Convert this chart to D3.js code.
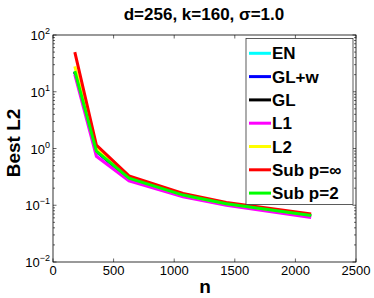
<!DOCTYPE html>
<html>
  <head>
    <title>Best L2 vs n</title>
    <script src="https://d3js.org/d3.v7.min.js"></script>
    <style>
      body { margin: 0; background: #fff; }
      text { font-family: "Liberation Sans", Arial, sans-serif; fill: #000; }
      .title, .axis-label, .legend text { font-weight: bold; }
      .tick-label { font-size: 13px; }
    </style>
  </head>
  <body>
    <svg width="374" height="298"></svg>
    <script>
      // n values and Best L2 per method
      const nValues = [180, 358, 627, 1073, 1430, 2130];
      const seriesNames = ["EN", "GL+w", "GL", "L1", "L2", "Sub p=\u221e", "Sub p=2"];
      const seriesColors = ["#00ffff", "#0000ff", "#000000", "#ff00ff", "#ffff00", "#ff0000", "#00ff00"];
      const enValues = [22.5, 0.90, 0.300, 0.150, 0.105, 0.066];
      const glwValues = [22.0, 0.88, 0.295, 0.149, 0.105, 0.065];
      const glValues = [22.5, 0.93, 0.300, 0.150, 0.105, 0.065];
      const l1Values = [20.0, 0.73, 0.270, 0.141, 0.100, 0.061];
      const l2Values = [28.0, 1.00, 0.310, 0.153, 0.107, 0.067];
      const subInfValues = [50.0, 1.15, 0.330, 0.161, 0.112, 0.070];
      const sub2Values = [23.0, 0.90, 0.300, 0.151, 0.106, 0.066];
      const xTicks = [0, 500, 1000, 1500, 2000, 2500];
      const yExponents = [-2, -1, 0, 1, 2];

      const allValues = [enValues, glwValues, glValues, l1Values, l2Values, subInfValues, sub2Values];
      const series = seriesNames.map((name, i) => ({
        name,
        color: seriesColors[i],
        points: nValues.map((n, j) => [n, allValues[i][j]])
      }));

      const svg = d3.select("svg");
      const plotLeft = 53, plotRight = 356, plotTop = 35, plotBottom = 262;

      const x = d3.scaleLinear().domain([0, 2500]).range([plotLeft, plotRight]);
      const y = d3.scaleLog().domain([1e-2, 1e2]).range([plotBottom, plotTop]);

      // ticks (inside, on all four sides)
      const tickG = svg.append("g").attr("stroke", "#000").attr("stroke-width", 0.6);
      xTicks.forEach(t => {
        tickG.append("line").attr("x1", x(t)).attr("x2", x(t)).attr("y1", plotBottom).attr("y2", plotBottom - 3.5);
        tickG.append("line").attr("x1", x(t)).attr("x2", x(t)).attr("y1", plotTop).attr("y2", plotTop + 3.5);
      });
      yExponents.forEach(e => {
        const v = Math.pow(10, e);
        tickG.append("line").attr("x1", plotLeft).attr("x2", plotLeft + 3.5).attr("y1", y(v)).attr("y2", y(v));
        tickG.append("line").attr("x1", plotRight).attr("x2", plotRight - 3.5).attr("y1", y(v)).attr("y2", y(v));
        if (e < 2) {
          for (let m = 2; m < 10; m++) {
            const mv = m * v;
            tickG.append("line").attr("x1", plotLeft).attr("x2", plotLeft + 2).attr("y1", y(mv)).attr("y2", y(mv));
            tickG.append("line").attr("x1", plotRight).attr("x2", plotRight - 2).attr("y1", y(mv)).attr("y2", y(mv));
          }
        }
      });

      // lines
      const line = d3.line().x(d => x(d[0])).y(d => y(d[1]));
      svg.append("g")
        .selectAll("path")
        .data(series)
        .join("path")
          .attr("d", d => line(d.points))
          .attr("fill", "none")
          .attr("stroke", d => d.color)
          .attr("stroke-width", 3)
          .attr("stroke-linejoin", "miter");

      // axes box
      svg.append("rect")
        .attr("x", plotLeft).attr("y", plotTop)
        .attr("width", plotRight - plotLeft).attr("height", plotBottom - plotTop)
        .attr("fill", "none").attr("stroke", "#000").attr("stroke-width", 0.8);

      // tick labels
      svg.append("g")
        .selectAll("text")
        .data(xTicks)
        .join("text")
          .attr("class", "tick-label")
          .attr("x", d => x(d))
          .attr("y", plotBottom + 13)
          .attr("text-anchor", "middle")
          .text(d => d);

      const yLab = svg.append("g")
        .selectAll("text")
        .data(yExponents)
        .join("text")
          .attr("class", "tick-label")
          .attr("x", plotLeft - 3)
          .attr("y", d => y(Math.pow(10, d)) + 5)
          .attr("text-anchor", "end");
      yLab.append("tspan").text("10");
      yLab.append("tspan")
        .attr("dy", -6)
        .style("font-size", "9px")
        .text(d => d < 0 ? "\u2212" + (-d) : d);

      // title and axis labels
      svg.append("text")
        .attr("class", "title")
        .attr("x", 204).attr("y", 20)
        .attr("text-anchor", "middle")
        .style("font-size", "17px")
        .text("d=256, k=160, \u03c3=1.0");

      svg.append("text")
        .attr("class", "axis-label")
        .attr("x", 205).attr("y", 293)
        .attr("text-anchor", "middle")
        .style("font-size", "19px")
        .text("n");

      svg.append("text")
        .attr("class", "axis-label")
        .attr("transform", "translate(20,143) rotate(-90)")
        .attr("text-anchor", "middle")
        .style("font-size", "19px")
        .text("Best L2");

      // legend
      const legendG = svg.append("g").attr("class", "legend");
      legendG.append("rect")
        .attr("x", 246).attr("y", 38.5)
        .attr("width", 107).attr("height", 166)
        .attr("fill", "#fff").attr("stroke", "#333").attr("stroke-width", 0.8);

      const items = legendG.selectAll(".item")
        .data(series)
        .join("g")
          .attr("class", "item")
          .attr("transform", (d, i) => `translate(249, ${53.3 + i * 23.3})`);
      items.append("line")
        .attr("x1", 0).attr("x2", 22)
        .attr("stroke", d => d.color)
        .attr("stroke-width", 3);
      items.append("text")
        .attr("x", 23)
        .attr("y", 6)
        .style("font-size", "17px")
        .text(d => d.name);
    </script>
  </body>
</html>
